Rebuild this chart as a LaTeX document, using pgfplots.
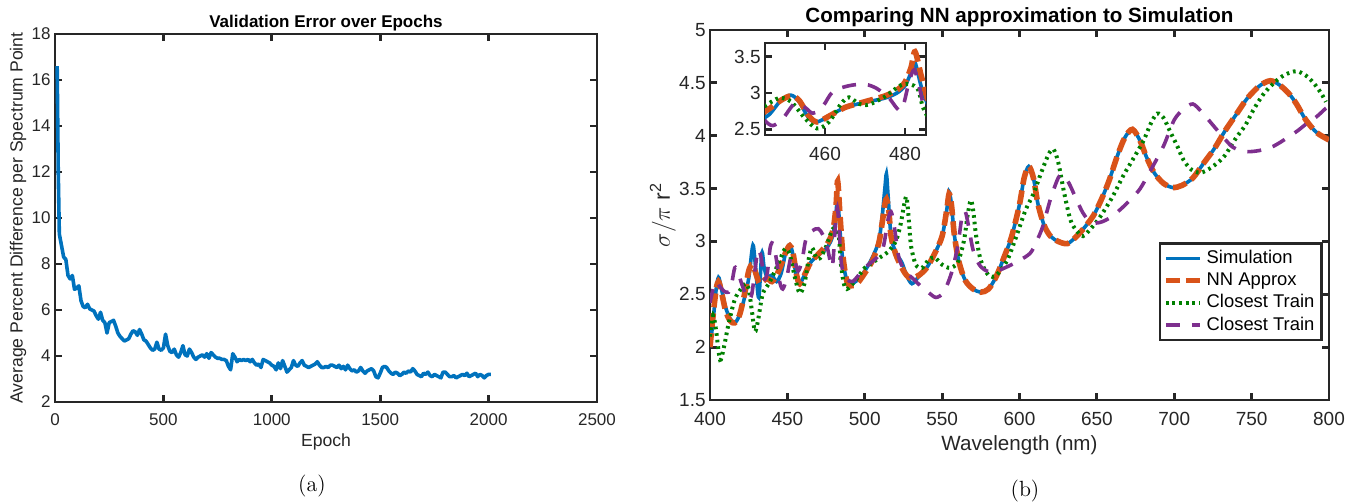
\documentclass[border=0pt]{standalone}
\usepackage{fontspec}
\setmainfont{Liberation Sans}
\usepackage{pgfplots}
\usepackage{pgfplotstable}
\pgfplotsset{compat=1.18}
\definecolor{mblue}{RGB}{0,114,189}
\definecolor{morange}{RGB}{217,83,25}
\definecolor{mgreen}{RGB}{0,128,0}
\definecolor{mpurple}{RGB}{126,47,142}
\definecolor{axgray}{RGB}{38,38,38}

\pgfplotstableread{
x y
10 16.6
15 12.0
20 9.3
30 8.8
40 8.3
50 8.2
60 7.5
70 7.35
80 7.5
90 6.9
100 6.95
110 7.05
120 6.4
130 6.15
140 6.1
150 6.25
160 6.05
170 6.0
180 5.95
190 5.75
200 5.6
210 5.9
220 5.55
230 5.45
240 5.0
250 5.45
260 5.5
270 5.55
280 5.3
290 5.0
300 4.85
310 4.75
320 4.65
330 4.7
340 4.75
350 4.95
360 5.1
370 5.05
380 4.9
390 5.15
400 4.95
410 4.7
420 4.65
430 4.5
440 4.35
450 4.25
460 4.3
470 4.6
480 4.3
490 4.25
500 4.35
510 4.95
520 4.45
530 4.2
540 4.15
550 4.3
560 4.05
570 3.95
580 4.15
590 4.45
600 4.05
610 4.0
620 4.3
630 4.15
640 3.95
650 3.85
660 3.95
670 4.0
680 4.05
690 3.95
700 4.1
710 3.9
720 4.15
730 4.05
740 3.95
750 3.9
760 3.9
770 3.85
780 3.85
790 3.8
800 3.55
810 3.4
820 4.1
830 3.95
840 3.75
850 3.85
860 3.8
870 3.85
880 3.8
890 3.85
900 3.75
910 3.85
920 3.7
930 3.6
940 3.65
950 3.5
960 3.85
970 3.8
980 3.75
990 3.7
1000 3.6
1010 3.55
1020 3.4
1030 3.7
1040 3.45
1050 3.8
1060 3.55
1070 3.3
1080 3.4
1090 3.5
1100 3.8
1110 3.6
1120 3.55
1130 3.7
1140 3.8
1150 3.6
1160 3.55
1170 3.5
1180 3.55
1190 3.6
1200 3.65
1210 3.75
1220 3.6
1230 3.5
1240 3.5
1250 3.55
1260 3.5
1270 3.6
1280 3.6
1290 3.55
1300 3.5
1310 3.6
1320 3.45
1330 3.55
1340 3.4
1350 3.6
1360 3.45
1370 3.35
1380 3.4
1390 3.3
1400 3.35
1410 3.5
1420 3.35
1430 3.25
1440 3.35
1450 3.4
1460 3.45
1470 3.35
1480 3.1
1490 3.05
1500 3.25
1510 3.5
1520 3.55
1530 3.5
1540 3.35
1550 3.25
1560 3.2
1570 3.3
1580 3.25
1590 3.15
1600 3.2
1610 3.3
1620 3.25
1630 3.35
1640 3.3
1650 3.45
1660 3.35
1670 3.2
1680 3.15
1690 3.1
1700 3.25
1710 3.2
1720 3.3
1730 3.15
1740 3.1
1750 3.2
1760 3.15
1770 3.1
1780 3.05
1790 3.3
1800 3.3
1810 3.2
1820 3.1
1830 3.1
1840 3.15
1850 3.05
1860 3.1
1870 3.15
1880 3.2
1890 3.15
1900 3.25
1910 3.1
1920 3.15
1930 3.2
1940 3.25
1950 3.1
1960 3.2
1970 3.15
1980 3.05
1990 3.15
2000 3.2
2010 3.2
}\errdata

\pgfplotstableread{
x y
400 2.00
402 2.25
404 2.55
405.5 2.66
407 2.58
410 2.38
413 2.27
416 2.23
419 2.3
422 2.45
425 2.65
427 2.9
428 2.96
429.5 2.75
431.5 2.47
433.5 2.89
435 2.75
437 2.66
440 2.68
443 2.62
446 2.7
449 2.9
451.5 2.97
453.5 2.88
456 2.65
458 2.6
461 2.68
465 2.8
470 2.87
475 2.93
478 3.0
480 3.1
481.5 3.28
482.5 3.42
484 3.1
486 2.8
488.5 2.63
491 2.6
495 2.63
500 2.72
505 2.85
509 3.0
511 3.2
513 3.5
514 3.64
515 3.45
517 3.05
520 2.9
524 2.8
527 2.68
530.5 2.6
535 2.67
540 2.75
545 2.88
550 3.05
553 3.3
554.5 3.47
556 3.35
558 3.05
561 2.8
565 2.63
570 2.55
575 2.52
580 2.55
585 2.67
590 2.85
595 3.05
600 3.35
603 3.6
606 3.71
609 3.6
612 3.35
616 3.15
620 3.05
625 3.0
631 2.98
637 3.05
643 3.15
648 3.25
653 3.4
658 3.58
663 3.8
668 3.98
673 4.06
678 3.95
682 3.8
687 3.65
693 3.55
699 3.51
705 3.53
712 3.6
719 3.74
726 3.88
733 4.05
740 4.2
747 4.35
755 4.47
762 4.52
768 4.48
774 4.4
779 4.3
785 4.15
792 4.03
800 3.96
}\simdata

\pgfplotstableread{
x y
400 2.0
402 2.3
404 2.55
405.5 2.62
407 2.55
410 2.35
413 2.25
416 2.23
419 2.3
422 2.48
425 2.72
427.5 2.78
430 2.68
432 2.6
434 2.62
437 2.65
440 2.62
443 2.68
446 2.78
449 2.9
451.5 2.96
453.5 2.9
456 2.68
458 2.6
461 2.68
465 2.8
470 2.88
475 2.96
478 3.04
480 3.15
481.5 3.35
482.5 3.57
484 3.25
486 2.85
488.5 2.62
491 2.58
495 2.6
500 2.7
505 2.82
509 2.98
511 3.15
513 3.35
514 3.4
515.5 3.3
517 3.05
520 2.88
524 2.75
527 2.68
530 2.65
535 2.68
540 2.75
545 2.88
550 3.05
553 3.3
554.5 3.45
556 3.35
558 3.05
561 2.8
565 2.63
570 2.55
575 2.52
580 2.55
585 2.67
590 2.85
595 3.05
600 3.35
603 3.6
606 3.71
609 3.6
612 3.35
616 3.15
620 3.05
625 3.0
631 2.98
637 3.05
643 3.15
648 3.25
653 3.4
658 3.58
663 3.8
668 3.98
673 4.06
678 3.95
682 3.8
687 3.65
693 3.55
699 3.51
705 3.53
712 3.6
719 3.74
726 3.88
733 4.05
740 4.2
747 4.35
755 4.47
762 4.52
768 4.48
774 4.4
779 4.3
785 4.15
792 4.03
800 3.96
}\nndata

\pgfplotstableread{
x y
400 2.1
402 2.3
404 2.15
406.5 1.88
409 2.0
412 2.22
416 2.45
420 2.55
423 2.6
425 2.55
427 2.35
429 2.15
431 2.25
434 2.5
438 2.6
442 2.72
445 2.82
448.5 2.93
451.5 2.88
455 2.65
458 2.51
461 2.6
464 2.85
466 2.94
468.5 2.85
471 2.84
475 2.95
479.5 3.12
483 3.07
484.5 2.8
486.5 2.6
488.5 2.55
491 2.58
495 2.65
500 2.75
505 2.8
510 2.85
515 2.9
520 3.0
523 3.15
525.5 3.35
527 3.42
528.5 3.2
530 2.95
533 2.78
537 2.75
541 2.82
545 2.85
550 2.78
555 2.75
560 2.8
564 3.0
566.5 3.25
568.5 3.39
570 3.3
572 3.05
575 2.82
580 2.68
585 2.68
592 2.82
598 3.05
604 3.3
609 3.45
614 3.65
619 3.83
622 3.87
625 3.75
629 3.45
633 3.2
637 3.1
641 3.05
646 3.12
652 3.23
660 3.42
667 3.62
673 3.77
680 3.95
685 4.12
689 4.21
693 4.17
697 4.05
702 3.9
706 3.77
711 3.68
717 3.65
724 3.7
732 3.8
740 3.98
746 4.1
751 4.24
758 4.4
766 4.52
772 4.58
779 4.61
785 4.57
790 4.5
795 4.4
798 4.32
}\ctadata

\pgfplotstableread{
x y
400 2.42
402 2.55
404 2.62
406 2.58
409 2.53
412 2.52
414 2.6
416 2.75
418 2.72
420 2.62
423 2.5
425 2.45
427 2.5
429 2.72
431 2.92
433 2.85
435 2.65
437 2.7
439 2.95
441 2.98
443 2.82
445 2.62
447 2.55
449.5 2.65
452.5 2.86
455 2.8
457 2.72
459.5 2.82
462 3.02
466 3.1
470 3.12
473 3.06
476 2.93
479 2.76
481 3.15
482.3 3.32
483.5 3.1
485 2.78
488 2.65
492 2.62
496 2.68
500 2.75
504 2.8
508 2.85
512 2.95
515 3.2
517 3.28
519 3.15
522 2.85
526 2.72
531 2.65
536 2.58
541 2.52
546 2.47
551 2.52
556 2.7
560 2.95
563 3.25
565 3.28
567 3.15
570 2.92
574 2.78
579 2.72
585 2.72
592 2.76
600 2.82
607 2.89
611 3.0
615 3.14
620 3.4
625 3.6
628 3.63
632 3.55
637 3.39
641 3.27
646 3.18
652 3.18
658 3.22
665 3.3
672 3.4
678 3.5
685 3.68
693 3.9
700 4.15
706 4.25
712 4.3
718 4.22
725 4.1
732 3.98
738 3.89
746 3.85
755 3.86
764 3.9
773 3.98
780 4.05
786 4.12
792 4.18
798 4.26
800 4.28
}\ctbdata

\pgfplotsset{mstyle/.style={
  scale only axis,
  line width=1.4pt,
  axis line style={axgray, line width=1.4pt},
  every tick/.style={axgray, line width=1.4pt},
  tick align=inside, major tick length=3.5pt,
  tick label style={text=axgray},
  yticklabel style={inner xsep=1.5pt},
  xticklabel style={yshift=-2pt},
  label style={text=axgray},
  every axis title/.style={anchor=center},
  /pgf/number format/assume math mode=true,
  /pgf/number format/1000 sep={},
  scaled ticks=false,
}}

\begin{document}
\begin{tikzpicture}
\useasboundingbox (0pt,0pt) rectangle (678pt,-251pt);

% ---------------- Left panel ----------------
\begin{axis}[mstyle,
  at={(27.5pt,-17pt)}, anchor=north west,
  width=271pt, height=184pt,
  xmin=0, xmax=2500, ymin=2, ymax=18,
  xtick={0,500,...,2500}, ytick={2,4,...,18},
  tick label style={font=\fontsize{8.5}{10}\selectfont},
  label style={font=\fontsize{8.8}{10}\selectfont},
  xlabel={Epoch},
  ylabel={Average Percent Difference per Spectrum Point},
  title={Validation Error over Epochs},
  title style={at={(axis description cs:0.5,1.03)}, font=\bfseries\fontsize{8.5}{10}\selectfont},
  xlabel style={at={(axis description cs:0.5,-0.109)}, anchor=center},
  ylabel style={at={(axis description cs:-0.068,0.5)}, anchor=center},
]
\addplot[mblue, line width=1.8pt, line join=round] table {\errdata};
\end{axis}

% ---------------- Right panel ----------------
\begin{axis}[mstyle,
  at={(355pt,-15pt)}, anchor=north west,
  width=309.5pt, height=185pt,
  xmin=400, xmax=800, ymin=1.5, ymax=5,
  xtick={400,450,...,800}, ytick={1.5,2,...,5},
  tick label style={font=\fontsize{9.5}{11}\selectfont},
  label style={font=\fontsize{10.3}{12}\selectfont},
  xlabel={Wavelength (nm)},
  ylabel={$\sigma/\pi$ r\textsuperscript{2}},
  title={Comparing NN approximation to Simulation},
  title style={at={(axis description cs:0.5,1.034)}, font=\bfseries\fontsize{10.3}{12}\selectfont},
  xlabel style={at={(axis description cs:0.5,-0.122)}, anchor=center},
  ylabel style={at={(axis description cs:-0.076,0.5)}, anchor=center, font=\fontsize{11.5}{13}\selectfont},
  legend style={at={(0.990,0.427)}, anchor=north east, draw=axgray,
    line width=1.4pt, font=\fontsize{9.2}{10}\selectfont,
    inner sep=1.5pt, row sep=-1pt},
  legend cell align=left,
]
\addplot[mblue, line width=1.8pt, smooth, tension=0.5] table {\simdata};
\addlegendentry{Simulation}
\addplot[morange, line width=2.8pt, smooth, tension=0.5, dash pattern=on 7pt off 3pt] table {\nndata};
\addlegendentry{NN Approx}
\addplot[mgreen, line width=2pt, smooth, tension=0.5, dash pattern=on 1.3pt off 2pt] table {\ctadata};
\addlegendentry{Closest Train}
\addplot[mpurple, line width=1.8pt, smooth, tension=0.5, dash pattern=on 7pt off 6pt] table {\ctbdata};
\addlegendentry{Closest Train}
\end{axis}

% ---------------- Inset ----------------
\begin{axis}[mstyle,
  at={(382.5pt,-21.5pt)}, anchor=north west,
  width=80.5pt, height=46pt,
  xmin=445, xmax=485.25, ymin=2.42, ymax=3.69,
  xtick={460,480}, ytick={2.5,3,3.5},
  tick label style={font=\fontsize{9.5}{11}\selectfont},
  axis background/.style={fill=white},
]
\addplot[mblue, line width=1.8pt, smooth, tension=0.5] table {\simdata};
\addplot[morange, line width=2.8pt, smooth, tension=0.5, dash pattern=on 7pt off 3pt] table {\nndata};
\addplot[mgreen, line width=2pt, smooth, tension=0.5, dash pattern=on 1.3pt off 2pt] table {\ctadata};
\addplot[mpurple, line width=1.8pt, smooth, tension=0.5, dash pattern=on 7pt off 6pt] table {\ctbdata};
\end{axis}

\node[font=\fontfamily{lmr}\fontsize{11}{12}\selectfont] at (156pt,-243pt) {(a)};
\node[font=\fontfamily{lmr}\fontsize{11}{12}\selectfont] at (512.5pt,-245.5pt) {(b)};
\end{tikzpicture}
\end{document}
